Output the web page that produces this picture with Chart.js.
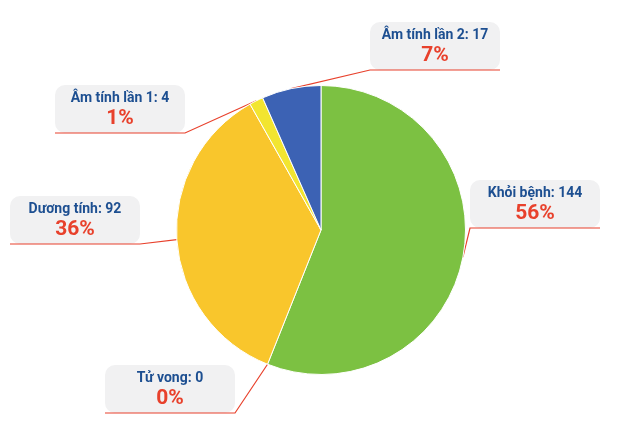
<!DOCTYPE html>
<html lang="vi">
<head>
<meta charset="UTF-8">
<title>Pie</title>
<script src="https://cdn.jsdelivr.net/npm/chart.js"></script>
<style>
  html, body { margin: 0; padding: 0; background: #fff; }
  #wrap { width: 617px; height: 423px; }
</style>
</head>
<body>
<div id="wrap"><canvas id="pie"></canvas></div>
<script>
// data
const labels = ['Khỏi bệnh', 'Tử vong', 'Dương tính', 'Âm tính lần 1', 'Âm tính lần 2'];
const counts = [144, 0, 92, 4, 17];
const percents = ['56%', '0%', '36%', '1%', '7%'];
const colors = ['#7cc142', '#999999', '#f9c62c', '#f2e530', '#3c62b4'];

// label boxes: x, y (top-left), and where the leader leaves the box
const boxes = [
  { x: 470, y: 180, side: 'left' },
  { x: 105, y: 365, side: 'right' },
  { x: 10, y: 196, side: 'right' },
  { x: 55, y: 85, side: 'right' },
  { x: 370, y: 22, side: 'left' }
];
const BW = 130, BH = 48;

function roundRect(ctx, x, y, w, h, r) {
  ctx.beginPath();
  ctx.moveTo(x + r, y);
  ctx.arcTo(x + w, y, x + w, y + h, r);
  ctx.arcTo(x + w, y + h, x, y + h, r);
  ctx.arcTo(x, y + h, x, y, r);
  ctx.arcTo(x, y, x + w, y, r);
  ctx.closePath();
}

const calloutPlugin = {
  id: 'callouts',
  beforeDatasetsDraw(chart) {
    const ctx = chart.ctx;
    const meta = chart.getDatasetMeta(0);
    ctx.save();
    boxes.forEach((b, i) => {
      ctx.fillStyle = '#f1f1f2';
      roundRect(ctx, b.x, b.y, BW, BH, 10);
      ctx.fill();
      // leader line
      const arc = meta.data[i];
      const mid = (arc.startAngle + arc.endAngle) / 2;
      const ax = arc.x + Math.cos(mid) * arc.outerRadius;
      const ay = arc.y + Math.sin(mid) * arc.outerRadius;
      const sx = b.side === 'left' ? b.x : b.x + BW;
      const sy = b.y + BH;
      ctx.strokeStyle = '#e8412c';
      ctx.lineWidth = 1.2;
      ctx.beginPath();
      ctx.moveTo(b.side === 'left' ? b.x + BW : b.x, sy);
      ctx.lineTo(sx, sy);
      ctx.lineTo(ax, ay);
      ctx.stroke();
    });
    ctx.restore();
  },
  afterDatasetsDraw(chart) {
    const ctx = chart.ctx;
    ctx.save();
    ctx.textAlign = 'center';
    ctx.textBaseline = 'middle';
    boxes.forEach((b, i) => {
      ctx.fillStyle = '#1d4f91';
      ctx.font = 'bold 14px "Liberation Sans Narrow", "Roboto", sans-serif';
      ctx.fillText(labels[i] + ': ' + counts[i], b.x + BW / 2, b.y + 13);
      ctx.fillStyle = '#e8412c';
      ctx.font = 'bold 21px "Liberation Sans Narrow", "Roboto", sans-serif';
      ctx.fillText(percents[i], b.x + BW / 2, b.y + 34);
    });
    ctx.restore();
  }
};

new Chart(document.getElementById('pie'), {
  type: 'pie',
  data: {
    labels: labels,
    datasets: [{
      data: counts,
      backgroundColor: colors,
      borderColor: '#ffffff',
      borderWidth: 1
    }]
  },
  options: {
    responsive: true,
    maintainAspectRatio: false,
    animation: false,
    layout: { padding: { left: 176, right: 151, top: 85, bottom: 48 } },
    plugins: { legend: { display: false }, tooltip: { enabled: false } }
  },
  plugins: [calloutPlugin]
});
</script>
</body>
</html>
